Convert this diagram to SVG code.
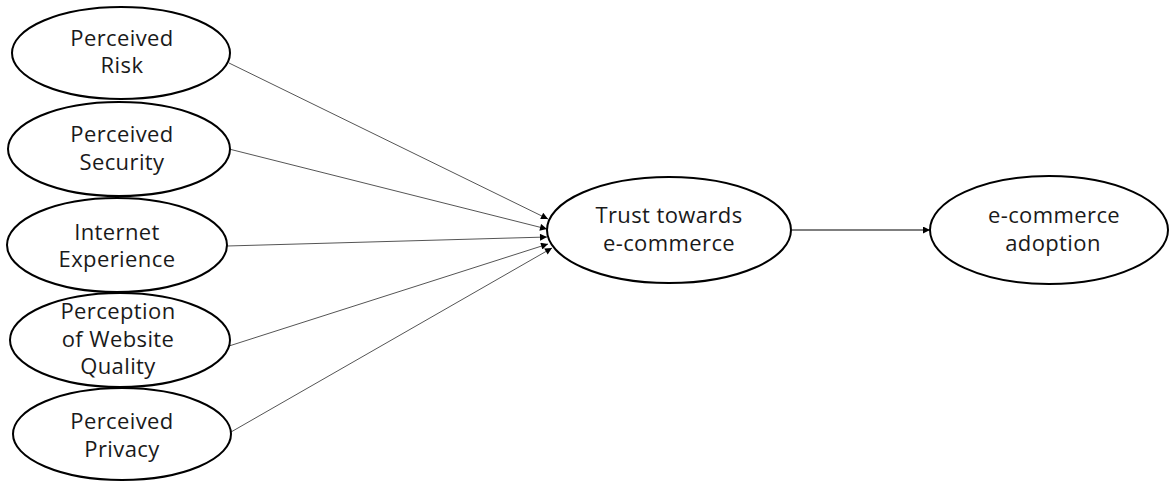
<svg xmlns="http://www.w3.org/2000/svg" width="1170" height="483" viewBox="0 0 1170 483">
  <style>
    .node ellipse { fill: #ffffff; stroke: #000000; stroke-width: 2; }
    .node text { font-family: "Open Sans", "Liberation Sans", sans-serif; font-size: 22px; letter-spacing: 0.4px; fill: #1a1a1a; text-anchor: middle; }
    .edge { stroke: #555555; stroke-width: 1; fill: none; marker-end: url(#arrow); }
    .edge-main { stroke: #000000; stroke-width: 1.2; fill: none; marker-end: url(#arrow); }
  </style>
  <defs>
    <marker id="arrow" viewBox="0 0 10 10" refX="10" refY="5" markerWidth="9" markerHeight="7" markerUnits="userSpaceOnUse" orient="auto">
      <path d="M0,0 L10,5 L0,10 Z" fill="#000000"/>
    </marker>
  </defs>
  <rect width="1170" height="483" fill="#ffffff"/>

  <!-- connectors -->
  <g id="connectors">
    <line class="edge" x1="229" y1="63" x2="548" y2="219"/>
    <line class="edge" x1="229" y1="149" x2="547" y2="229"/>
    <line class="edge" x1="227" y1="246" x2="547" y2="237"/>
    <line class="edge" x1="229" y1="346" x2="548" y2="244"/>
    <line class="edge" x1="231" y1="432" x2="552" y2="248"/>
    <line class="edge-main" x1="792" y1="230" x2="930" y2="230"/>
  </g>

  <!-- antecedent constructs -->
  <g id="perceived-risk" class="node">
    <ellipse cx="121" cy="53" rx="109" ry="46"/>
    <text x="122" y="46">Perceived</text>
    <text x="122" y="73">Risk</text>
  </g>
  <g id="perceived-security" class="node">
    <ellipse cx="119" cy="149" rx="111" ry="47"/>
    <text x="122" y="142">Perceived</text>
    <text x="122" y="170">Security</text>
  </g>
  <g id="internet-experience" class="node">
    <ellipse cx="117" cy="245" rx="110" ry="47"/>
    <text x="117" y="240">Internet</text>
    <text x="117" y="267">Experience</text>
  </g>
  <g id="website-quality" class="node">
    <ellipse cx="120" cy="340" rx="110" ry="47"/>
    <text x="118" y="319">Perception</text>
    <text x="118" y="347">of Website</text>
    <text x="118" y="374">Quality</text>
  </g>
  <g id="perceived-privacy" class="node">
    <ellipse cx="122" cy="434" rx="109" ry="46"/>
    <text x="122" y="429">Perceived</text>
    <text x="122" y="457">Privacy</text>
  </g>

  <!-- mediator -->
  <g id="trust" class="node">
    <ellipse cx="669" cy="230" rx="122" ry="53"/>
    <text x="669" y="223">Trust towards</text>
    <text x="669" y="251">e-commerce</text>
  </g>

  <!-- outcome -->
  <g id="adoption" class="node">
    <ellipse cx="1049" cy="230" rx="119" ry="54"/>
    <text x="1054" y="223">e-commerce</text>
    <text x="1053" y="251">adoption</text>
  </g>
</svg>
